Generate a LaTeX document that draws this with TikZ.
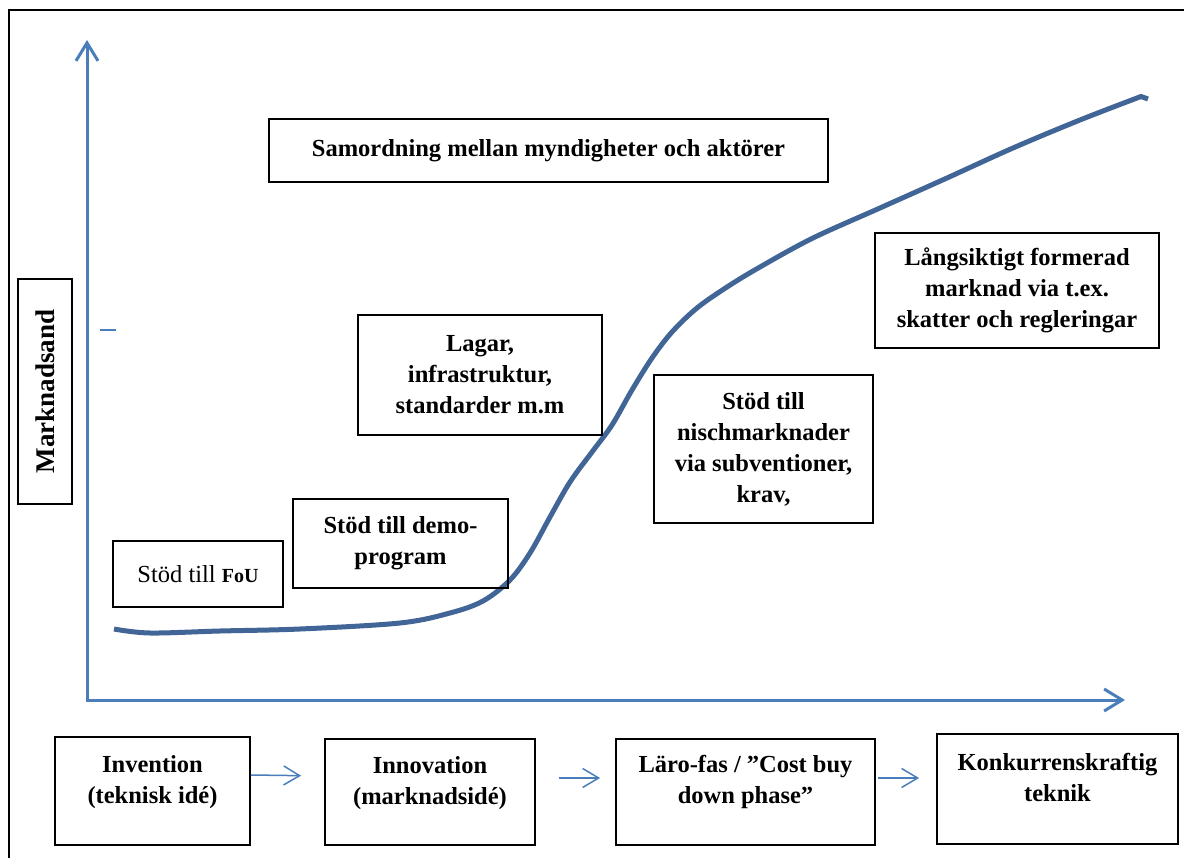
\documentclass[tikz,border=0pt]{standalone}
\usepackage{fontspec}
\setmainfont{Liberation Serif}
\usetikzlibrary{arrows.meta,calc}
\definecolor{axisblue}{RGB}{74,126,187}
\definecolor{curveblue}{RGB}{65,101,150}
\begin{document}
\begin{tikzpicture}[x=1pt,y=-1pt,
  box/.style={draw=black, line width=1.8pt, align=center, inner sep=0pt,
    font=\fontsize{24.5}{31}\selectfont\bfseries},
  txt/.style={align=center, inner sep=0pt, font=\fontsize{24.5}{31}\selectfont\bfseries},
  axis/.style={draw=axisblue, line width=3pt},
  small/.style={draw=axisblue, line width=1.5pt, -{Straight Barb[length=16pt,width=19pt]}}
]
\useasboundingbox (0,0) rectangle (1184,858);
% outer frame
\draw[line width=2.5pt] (9,870) -- (9,10) -- (1195,10);

% axes
\coordinate (O) at (87,700);
\coordinate (ytop) at (87,40);
\coordinate (xend) at (1125,700);
\draw[axis, {Straight Barb[length=18pt,width=22pt]}-{Straight Barb[length=18pt,width=22pt]}] (ytop) -- (O) -- (xend);
\draw[axisblue, line width=1.8pt] (100,330) -- (116,330);

% S-curve
\draw[curveblue, line width=5pt] plot[smooth, tension=0.55] coordinates {(114,629) (150,633) (220,631) (300,629) (400,623) (450,613) (483,601) (510,580) (530,553) (550,517) (570,482) (592,452) (612,425) (632,390) (652,358) (672,332) (697,308) (727,287) (760,267) (813,238) (880,208) (947,178) (1013,148) (1080,120) (1141,96.5)} -- (1148,99);

% upper boxes
\node[box, minimum width=559pt, minimum height=63pt] (samo) at (548.5,150.5) {Samordning mellan myndigheter och aktörer};
\node[box, minimum width=244pt, minimum height=120pt] (lagar) at (480,375) {Lagar,\\infrastruktur,\\standarder m.m};
\node[box, minimum width=215pt, minimum height=89pt] (demo) at (400.5,543.5) {Stöd till demo-\\program};
\node[box, minimum width=170pt, minimum height=66pt, font=\fontsize{24.5}{31}\selectfont] (fou) at (198,574) {Stöd till {\fontsize{20}{24}\selectfont\bfseries FoU}};
\node[box, minimum width=219pt, minimum height=148pt] (nisch) at (763.5,449) {Stöd till\\nischmarknader\\via subventioner,\\krav,};
\node[box, minimum width=284pt, minimum height=115pt] (lang) at (1017,290.5) {Långsiktigt formerad\\marknad via t.ex.\\skatter och regleringar};
\node[box, rotate=90, minimum width=225pt, minimum height=54pt, font=\fontsize{27}{31}\selectfont\bfseries] (mark) at (45,391.5) {Marknadsand};

% bottom boxes
\node[box, minimum width=195pt, minimum height=108pt] (inv) at (152.5,791) {};
\node[box, minimum width=210pt, minimum height=106pt] (innov) at (430,792) {};
\node[box, minimum width=259pt, minimum height=106pt] (laro) at (745.5,792) {};
\node[box, minimum width=241pt, minimum height=110pt] (konk) at (1057.5,789) {};
\node[txt] (invt) at (152.5,782) {Invention\\(teknisk idé)};
\node[txt] (innovt) at (430,783) {Innovation\\(marknadsidé)};
\node[txt] (larot) at (745.5,782) {Läro-fas / ”Cost buy\\down phase”};
\node[txt] (konkt) at (1057.5,777) {Konkurrenskraftig\\teknik};

\draw[small, shorten >=23pt] ([yshift=16pt]inv.east) -- ([yshift=16pt]innov.west);
\draw[small, shorten <=23pt, shorten >=15pt] ([yshift=14pt]innov.east) -- ([yshift=14pt]laro.west);
\draw[small, shorten <=2pt, shorten >=17pt] ([yshift=14pt]laro.east) -- ([yshift=11pt]konk.west);
\end{tikzpicture}
\end{document}
